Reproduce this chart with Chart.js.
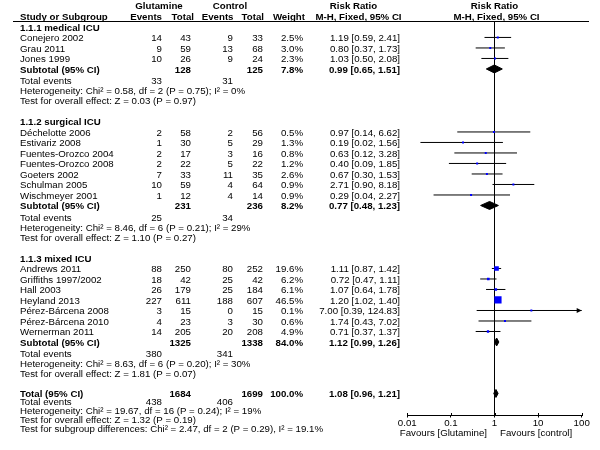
<!DOCTYPE html>
<html>
<head>
<meta charset="utf-8">
<script src="https://cdn.jsdelivr.net/npm/chart.js@4.4.0/dist/chart.umd.min.js"></script>
<style>
  html, body { margin: 0; padding: 0; background: #fff; }
  #wrap { width: 600px; height: 450px; }
</style>
</head>
<body>
<div id="wrap"><canvas id="forest" width="600" height="450"></canvas></div>
<script>
// --- data ---
const groupNames = ['1.1.1 medical ICU', '1.1.2 surgical ICU', '1.1.3 mixed ICU'];
const groupSizes = [3, 7, 7];

const studyNames = [
    'Conejero 2002', 'Grau 2011', 'Jones 1999',
    'Déchelotte 2006', 'Estivariz 2008', 'Fuentes-Orozco 2004', 'Fuentes-Orozco 2008',
    'Goeters 2002', 'Schulman 2005', 'Wischmeyer 2001',
    'Andrews 2011', 'Griffiths 1997/2002', 'Hall 2003', 'Heyland 2013',
    'Pérez-Bárcena 2008', 'Pérez-Bárcena 2010', 'Wernerman 2011'
];
const glutEvents = [14, 9, 10, 2, 1, 2, 2, 7, 10, 1, 88, 18, 26, 227, 3, 4, 14];
const glutTotal = [43, 59, 26, 58, 30, 17, 22, 33, 59, 12, 250, 42, 179, 611, 15, 23, 205];
const ctrlEvents = [9, 13, 9, 2, 5, 3, 5, 11, 4, 4, 80, 25, 25, 188, 0, 3, 20];
const ctrlTotal = [33, 68, 24, 56, 29, 16, 22, 35, 64, 14, 252, 42, 184, 607, 15, 30, 208];
const weights = [2.5, 3.0, 2.3, 0.5, 1.3, 0.8, 1.2, 2.6, 0.9, 0.9, 19.6, 6.2, 6.1, 46.5, 0.1, 0.6, 4.9];
const ratio = [1.19, 0.80, 1.03, 0.97, 0.19, 0.63, 0.40, 0.67, 2.71, 0.29, 1.11, 0.72, 1.07, 1.20, 7.00, 1.74, 0.71];
const ciLow = [0.59, 0.37, 0.50, 0.14, 0.02, 0.12, 0.09, 0.30, 0.90, 0.04, 0.87, 0.47, 0.64, 1.02, 0.39, 0.43, 0.37];
const ciHigh = [2.41, 1.73, 2.08, 6.62, 1.56, 3.28, 1.85, 1.53, 8.18, 2.27, 1.42, 1.11, 1.78, 1.40, 124.83, 7.02, 1.37];

const subGlutTotal = [128, 231, 1325];
const subCtrlTotal = [125, 236, 1338];
const subWeight = [7.8, 8.2, 84.0];
const subRatio = [0.99, 0.77, 1.12];
const subLow = [0.65, 0.48, 0.99];
const subHigh = [1.51, 1.23, 1.26];
const subGlutEvents = [33, 25, 380];
const subCtrlEvents = [31, 34, 341];
const subHetero = [
    'Chi² = 0.58, df = 2 (P = 0.75); I² = 0%',
    'Chi² = 8.46, df = 6 (P = 0.21); I² = 29%',
    'Chi² = 8.63, df = 6 (P = 0.20); I² = 30%'
];
const subEffect = ['Z = 0.03 (P = 0.97)', 'Z = 1.10 (P = 0.27)', 'Z = 1.81 (P = 0.07)'];

const totalCounts = [1684, 1699];
const totalEvents = [438, 406];
const totalWeight = 100.0;
const totalEstimate = [1.08, 0.96, 1.21];
const totalHetero = 'Chi² = 19.67, df = 16 (P = 0.24); I² = 19%';
const totalEffect = 'Z = 1.32 (P = 0.19)';
const subgroupTest = 'Chi² = 2.47, df = 2 (P = 0.29), I² = 19.1%';

const tickValues = [0.01, 0.1, 1, 10, 100];
const tickLabels = ['0.01', '0.1', '1', '10', '100'];

// --- layout ---
const FONT = '"Liberation Sans", Arial, Helvetica, sans-serif';
const FONT_PX = 9.7;
const TEXT_DY = 1;
const Y_MAX = 37.5;       // rows between header rule and x axis
const DIAMOND_H = 0.38;   // half height of a diamond, in rows
const COL = { label: 20, gE: 162, gT: 191, cE: 233, cT: 263, w: 303, rr: 400 };

function buildRows() {
    const rows = [];
    let pos = 0.5, s = 0;
    groupNames.forEach((name, g) => {
        rows.push({ kind: 'group', g, pos });
        pos += 1;
        for (let k = 0; k < groupSizes[g]; k++) {
            rows.push({ kind: 'study', s: s++, pos });
            pos += 1;
        }
        rows.push({ kind: 'subtotal', g, pos });
        pos += 1.1;
        rows.push({ kind: 'subEvents', g, pos });
        pos += 0.95;
        rows.push({ kind: 'subHetero', g, pos });
        pos += 0.95;
        rows.push({ kind: 'subEffect', g, pos });
        pos += 2.0;
    });
    pos -= 0.1;
    rows.push({ kind: 'total', pos });
    pos += 0.75;
    rows.push({ kind: 'totEvents', pos });
    pos += 0.85;
    rows.push({ kind: 'totHetero', pos });
    pos += 0.85;
    rows.push({ kind: 'totEffect', pos });
    pos += 0.85;
    rows.push({ kind: 'subgroupTest', pos });
    return rows;
}

const rows = buildRows();
const studyPos = rows.filter(r => r.kind === 'study').map(r => r.pos);
const subPos = rows.filter(r => r.kind === 'subtotal').map(r => r.pos);
const totalPos = rows.find(r => r.kind === 'total').pos;

const fmt2 = v => v.toFixed(2);
const estText = (r, lo, hi) => `${fmt2(r)} [${fmt2(lo)}, ${fmt2(hi)}]`;

function diamond(rr, lo, hi, y) {
    return [
        { x: lo, y }, { x: rr, y: y - DIAMOND_H }, { x: hi, y },
        { x: rr, y: y + DIAMOND_H }, { x: lo, y }
    ];
}

// --- datasets ---
const datasets = [];

datasets.push({
    data: ratio.map((r, i) => ({ x: r, y: studyPos[i] })),
    pointStyle: 'rect',
    pointRadius: weights.map(w => Math.max(1.4, 0.75 * Math.sqrt(w))),
    pointBackgroundColor: '#0000ff',
    pointBorderWidth: 0,
    showLine: false,
    order: 0
});

ratio.forEach((r, i) => {
    datasets.push({
        data: [{ x: ciLow[i], y: studyPos[i] }, { x: ciHigh[i], y: studyPos[i] }],
        showLine: true,
        borderColor: '#000',
        borderWidth: 1,
        pointRadius: 0,
        order: 1
    });
});

subRatio.forEach((r, g) => {
    datasets.push({
        data: diamond(r, subLow[g], subHigh[g], subPos[g]),
        showLine: true,
        fill: 'shape',
        backgroundColor: '#000',
        borderColor: '#000',
        borderWidth: 1,
        pointRadius: 0,
        order: 1
    });
});

datasets.push({
    data: diamond(totalEstimate[0], totalEstimate[1], totalEstimate[2], totalPos),
    showLine: true,
    fill: 'shape',
    backgroundColor: '#000',
    borderColor: '#000',
    borderWidth: 1,
    pointRadius: 0,
    order: 1
});

// line of no effect
datasets.push({
    data: [{ x: 1, y: 0 }, { x: 1, y: Y_MAX }],
    showLine: true,
    borderColor: '#000',
    borderWidth: 1,
    pointRadius: 0,
    order: 3
});

// --- table text, header rule and arrows ---
function text(ctx, str, x, y, align, bold) {
    ctx.font = (bold ? 'bold ' : '') + FONT_PX + 'px ' + FONT;
    ctx.textAlign = align;
    ctx.fillText(str, x, y);
}

const tablePlugin = {
    id: 'forestTable',
    afterDatasetsDraw(chart) {
        const ctx = chart.ctx;
        const xs = chart.scales.x, ys = chart.scales.y;
        const right = chart.chartArea.right;
        ctx.save();
        ctx.fillStyle = '#000';
        ciHigh.forEach((hi, i) => {
            if (hi <= xs.max) return;
            const y = ys.getPixelForValue(studyPos[i]);
            ctx.beginPath();
            ctx.moveTo(right, y);
            ctx.lineTo(right - 5, y - 2.5);
            ctx.lineTo(right - 5, y + 2.5);
            ctx.closePath();
            ctx.fill();
        });
        // small upward half of the tick marks
        const axisY = Math.round(chart.chartArea.bottom);
        ctx.strokeStyle = '#000';
        ctx.lineWidth = 1;
        tickValues.forEach(v => {
            const x = Math.round(xs.getPixelForValue(v)) + 0.5;
            ctx.beginPath();
            ctx.moveTo(x, axisY - 3);
            ctx.lineTo(x, axisY);
            ctx.stroke();
        });
        ctx.restore();
    },
    afterDraw(chart) {
        const ctx = chart.ctx;
        const ys = chart.scales.y;
        const x1 = chart.scales.x.getPixelForValue(1);
        const py = v => ys.getPixelForValue(v) + TEXT_DY;
        ctx.save();
        ctx.fillStyle = '#000';
        ctx.textBaseline = 'middle';

        // header
        let y = py(-1.55);
        text(ctx, 'Glutamine', 159, y, 'center', true);
        text(ctx, 'Control', 230, y, 'center', true);
        text(ctx, 'Risk Ratio', 353.5, y, 'center', true);
        text(ctx, 'Risk Ratio', x1, y, 'center', true);
        y = py(-0.5);
        text(ctx, 'Study or Subgroup', COL.label, y, 'left', true);
        text(ctx, 'Events', 162, y, 'right', true);
        text(ctx, 'Total', 194, y, 'right', true);
        text(ctx, 'Events', 233.5, y, 'right', true);
        text(ctx, 'Total', 264, y, 'right', true);
        text(ctx, 'Weight', 305, y, 'right', true);
        text(ctx, 'M-H, Fixed, 95% CI', 358.5, y, 'center', true);
        text(ctx, 'M-H, Fixed, 95% CI', x1 + 2, y, 'center', true);

        const ruleY = Math.floor(chart.chartArea.top) + 0.5;
        ctx.strokeStyle = '#000';
        ctx.lineWidth = 1;
        ctx.beginPath();
        ctx.moveTo(13, ruleY);
        ctx.lineTo(589, ruleY);
        ctx.stroke();

        rows.forEach(r => {
            const y = py(r.pos);
            switch (r.kind) {
                case 'group':
                    text(ctx, groupNames[r.g], COL.label, y, 'left', true);
                    break;
                case 'study': {
                    const i = r.s;
                    text(ctx, studyNames[i], COL.label, y, 'left', false);
                    text(ctx, String(glutEvents[i]), COL.gE, y, 'right', false);
                    text(ctx, String(glutTotal[i]), COL.gT, y, 'right', false);
                    text(ctx, String(ctrlEvents[i]), COL.cE, y, 'right', false);
                    text(ctx, String(ctrlTotal[i]), COL.cT, y, 'right', false);
                    text(ctx, weights[i].toFixed(1) + '%', COL.w, y, 'right', false);
                    text(ctx, estText(ratio[i], ciLow[i], ciHigh[i]), COL.rr, y, 'right', false);
                    break;
                }
                case 'subtotal': {
                    const g = r.g;
                    text(ctx, 'Subtotal (95% CI)', COL.label, y, 'left', true);
                    text(ctx, String(subGlutTotal[g]), COL.gT, y, 'right', true);
                    text(ctx, String(subCtrlTotal[g]), COL.cT, y, 'right', true);
                    text(ctx, subWeight[g].toFixed(1) + '%', COL.w, y, 'right', true);
                    text(ctx, estText(subRatio[g], subLow[g], subHigh[g]), COL.rr, y, 'right', true);
                    break;
                }
                case 'subEvents':
                    text(ctx, 'Total events', COL.label, y, 'left', false);
                    text(ctx, String(subGlutEvents[r.g]), COL.gE, y, 'right', false);
                    text(ctx, String(subCtrlEvents[r.g]), COL.cE, y, 'right', false);
                    break;
                case 'subHetero':
                    text(ctx, 'Heterogeneity: ' + subHetero[r.g], COL.label, y, 'left', false);
                    break;
                case 'subEffect':
                    text(ctx, 'Test for overall effect: ' + subEffect[r.g], COL.label, y, 'left', false);
                    break;
                case 'total':
                    text(ctx, 'Total (95% CI)', COL.label, y, 'left', true);
                    text(ctx, String(totalCounts[0]), COL.gT, y, 'right', true);
                    text(ctx, String(totalCounts[1]), COL.cT, y, 'right', true);
                    text(ctx, totalWeight.toFixed(1) + '%', COL.w, y, 'right', true);
                    text(ctx, estText(totalEstimate[0], totalEstimate[1], totalEstimate[2]), COL.rr, y, 'right', true);
                    break;
                case 'totEvents':
                    text(ctx, 'Total events', COL.label, y, 'left', false);
                    text(ctx, String(totalEvents[0]), COL.gE, y, 'right', false);
                    text(ctx, String(totalEvents[1]), COL.cE, y, 'right', false);
                    break;
                case 'totHetero':
                    text(ctx, 'Heterogeneity: ' + totalHetero, COL.label, y, 'left', false);
                    break;
                case 'totEffect':
                    text(ctx, 'Test for overall effect: ' + totalEffect, COL.label, y, 'left', false);
                    break;
                case 'subgroupTest':
                    text(ctx, 'Test for subgroup differences: ' + subgroupTest, COL.label, y, 'left', false);
                    break;
            }
        });

        // favours labels under the axis
        const fy = chart.chartArea.bottom + 17.5;
        text(ctx, 'Favours [Glutamine]', x1 - 7.5, fy, 'right', false);
        text(ctx, 'Favours [control]', x1 + 5.5, fy, 'left', false);
        ctx.restore();
    }
};

new Chart(document.getElementById('forest'), {
    type: 'scatter',
    data: { datasets },
    options: {
        responsive: false,
        devicePixelRatio: 1,
        animation: false,
        events: [],
        layout: { padding: { left: 407.3, right: 18.3, top: 21.7, bottom: 14.5 } },
        plugins: { legend: { display: false }, tooltip: { enabled: false } },
        scales: {
            x: {
                type: 'logarithmic',
                min: 0.01,
                max: 100,
                position: 'bottom',
                afterBuildTicks: scale => { scale.ticks = tickValues.map(v => ({ value: v })); },
                afterFit: scale => { scale.height = 20; },
                border: { display: true, color: '#000', width: 1 },
                grid: { display: true, drawOnChartArea: false, drawTicks: true, tickLength: 2, color: '#000' },
                ticks: {
                    autoSkip: false,
                    maxRotation: 0,
                    padding: 0,
                    color: '#000',
                    font: { family: FONT, size: FONT_PX },
                    callback: (v, i) => tickLabels[i]
                }
            },
            y: {
                type: 'linear',
                display: false,
                reverse: true,
                min: 0,
                max: Y_MAX
            }
        }
    },
    plugins: [tablePlugin]
});
</script>
</body>
</html>
